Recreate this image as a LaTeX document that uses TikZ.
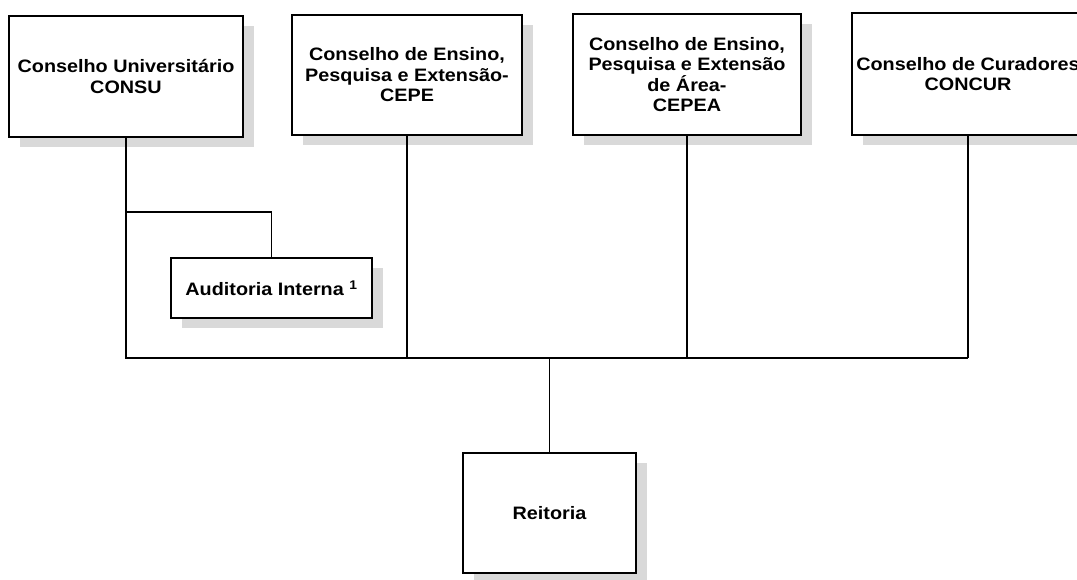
\documentclass[tikz,border=0pt]{standalone}
\usepackage{fontspec}
\setmainfont{Liberation Sans}[FakeStretch=1.1]
\usetikzlibrary{shadows}
\begin{document}
\begin{tikzpicture}[x=1pt,y=-1pt,
  orgbox/.style={draw=black, line width=1.3pt, fill=white, align=center, inner sep=0pt,
    font=\fontsize{18}{20.5}\selectfont\bfseries,
    drop shadow={shadow xshift=11pt, shadow yshift=-10pt, fill=gray!30, opacity=1}},
  conn/.style={draw=black, line width=1.1pt}]
\useasboundingbox (0,0) rectangle (1077,579);
\node[orgbox, minimum width=234pt, minimum height=121pt] (consu) at (126,76.5) {Conselho Universitário\\CONSU};
\node[orgbox, minimum width=230pt, minimum height=120pt] (cepe) at (407,75) {Conselho de Ensino,\\Pesquisa e Extensão-\\CEPE};
\node[orgbox, minimum width=228pt, minimum height=121pt] (cepea) at (687,74.5) {Conselho de Ensino,\\Pesquisa e Extensão\\de Área-\\CEPEA};
\node[orgbox, minimum width=232pt, minimum height=122pt] (concur) at (968,74) {Conselho de Curadores\\CONCUR};
\node[orgbox, minimum width=201pt, minimum height=60pt] (audit) at (271.5,288) {Auditoria Interna \textsuperscript{1}};
\node[orgbox, minimum width=173pt, minimum height=120pt] (reit) at (549.5,513) {Reitoria};
\coordinate (b1) at (consu.south |- 0,358);
\coordinate (b2) at (cepe.south |- 0,358);
\coordinate (b3) at (cepea.south |- 0,358);
\coordinate (b4) at (concur.south |- 0,358);
\coordinate (bm) at (reit.north |- 0,358);
\coordinate (a1) at (consu.south |- 0,212);
\coordinate (a2) at (audit.north |- 0,212);
\draw[conn] (consu.south) -- (b1) -- (b4);
\draw[conn] (cepe.south) -- (b2);
\draw[conn] (cepea.south) -- (b3);
\draw[conn] (concur.south) -- (b4);
\draw[conn] (bm) -- (reit.north);
\draw[conn] (a1) -- (a2) -- (audit.north);
\end{tikzpicture}
\end{document}
